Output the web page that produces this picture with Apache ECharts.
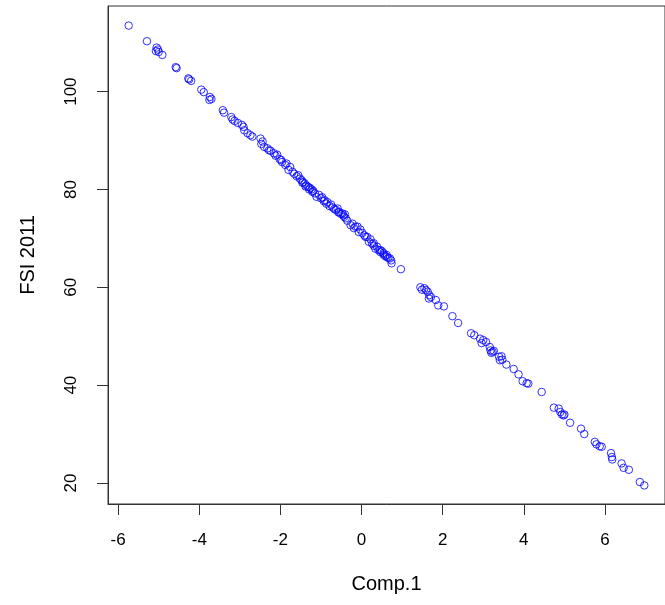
<!DOCTYPE html>
<html>
<head>
<meta charset="utf-8">
<script src="https://cdn.jsdelivr.net/npm/echarts@6/dist/echarts.min.js"></script>
<style>
  html, body { margin: 0; padding: 0; background: #fff; }
  #chart { width: 665px; height: 605px; }
</style>
</head>
<body>
<div id="chart"></div>
<script>
// Comp.1 scores and FSI 2011 values
var comp1 = [
  -5.74, -5.29, -5.05, -5.02, -5.07, -5.00, -4.91, -4.58, -4.56, -4.27,
  -4.25, -4.20, -3.95, -3.89, -3.74, -3.70, -3.75, -3.42, -3.39, -3.21,
  -3.18, -3.13, -3.05, -2.95, -2.91, -2.89, -2.81, -2.74, -2.69, -2.49,
  -2.47, -2.40, -2.32, -2.24, -2.16, -2.08, -2.02, -1.96, -1.88, -1.76,
  -2.44, -2.28, -2.12, -1.98, -1.85, -1.80, -1.70, -1.66,
  -1.60, -1.56, -1.52, -1.48, -1.46, -1.44, -1.40, -1.38, -1.36, -1.31,
  -1.29, -1.27, -1.23, -1.21, -1.19, -1.15, -1.11, -1.05, -1.00, -0.97,
  -0.93, -0.91, -0.87, -0.84, -0.79, -0.75, -0.71, -0.67, -0.63, -0.59,
  -0.57, -0.55, -0.51, -0.47, -0.45, -0.43, -0.41, -0.39, -0.35, -0.27,
  -0.22, -0.19, -0.15, -0.10, -0.07, -0.03, 0.02, 0.07, 0.10, 0.14,
  0.18, 0.22, 0.26, 0.30, 0.30, 0.34, 0.38, 0.42, 0.46, 0.46,
  0.50, 0.54, 0.54, 0.58, 0.62, 0.62, 0.66, 0.70, 0.73, 0.74,
  0.97,
  1.45, 1.49, 1.55, 1.59, 1.63, 1.67, 1.66, 1.71, 1.83, 1.89,
  2.03, 2.24, 2.38, 2.70, 2.78, 2.92, 3.00, 2.96, 3.07, 3.16,
  3.18, 3.23, 3.26, 3.20, 3.39, 3.45, 3.47, 3.41, 3.57, 3.75,
  3.87, 3.97, 4.07, 4.11, 4.44, 4.74, 4.86, 4.90, 4.94, 4.98,
  5.00, 5.14, 5.41, 5.49, 5.75, 5.79, 5.87, 5.92, 6.15, 6.17,
  6.18, 6.41, 6.46, 6.59, 6.86, 6.97
]
var fsi2011 = [
  113.5, 110.3, 109.0, 108.6, 108.3, 108.1, 107.5, 105.0, 104.8, 102.7,
  102.5, 102.2, 100.4, 99.9, 98.9, 98.5, 98.3, 96.2, 95.7, 94.8,
  94.3, 94.0, 93.6, 93.2, 92.8, 92.1, 91.5, 91.1, 90.8, 90.4,
  89.3, 88.7, 88.4, 87.9, 87.4, 87.1, 86.2, 85.6, 85.0, 84.6,
  89.8, 88.0, 86.9, 86.0, 85.3, 84.0, 83.6, 83.2,
  82.7, 82.9, 82.2, 81.9, 81.4, 81.5, 81.2, 80.6, 80.8, 80.5,
  80.0, 80.3, 80.0, 79.5, 79.7, 79.2, 78.5, 78.9, 78.2, 78.4,
  77.6, 77.8, 77.1, 77.4, 76.6, 76.9, 76.3, 76.0, 75.8, 76.1,
  75.3, 75.4, 75.0, 75.1, 74.7, 74.4, 74.9, 74.1, 73.6, 72.7,
  73.0, 72.1, 72.4, 72.4, 71.3, 71.8, 71.1, 70.6, 70.3, 70.3,
  69.3, 69.8, 68.9, 69.0, 68.5, 67.9, 68.3, 67.6, 67.6, 67.2,
  67.4, 67.0, 66.7, 66.4, 66.6, 66.2, 66.0, 65.9, 65.5, 64.9,
  63.7,
  60.0, 59.5, 59.8, 59.4, 59.1, 58.4, 57.7, 58.0, 57.4, 56.3,
  56.1, 54.1, 52.7, 50.6, 50.2, 49.5, 49.2, 48.6, 48.8, 47.8,
  47.1, 46.8, 47.0, 46.6, 45.8, 45.9, 45.2, 45.1, 44.2, 43.3,
  42.2, 40.8, 40.4, 40.3, 38.6, 35.4, 35.2, 34.5, 34.0, 33.8,
  34.0, 32.3, 31.1, 30.0, 28.4, 27.9, 27.5, 27.4, 26.1, 25.3,
  24.8, 24.0, 23.1, 22.7, 20.2, 19.5
]
var xTicks = [-6, -4, -2, 0, 2, 4, 6]
var yTicks = [20, 40, 60, 80, 100]

var points = comp1.map(function (x, i) { return [x, fsi2011[i]] })

var chart = echarts.init(document.getElementById('chart'))
var font = 'Liberation Sans, Arial, sans-serif'

var option = {
  animation: false,
  backgroundColor: '#fff',
  grid: {
    show: true,
    left: 108,
    top: 6,
    width: 567,
    height: 498,
    borderColor: '#333',
    borderWidth: 1
  },
  xAxis: {
    type: 'value',
    min: -6.25,
    max: 7.48,
    name: 'Comp.1',
    nameLocation: 'middle',
    nameGap: 70,
    nameTextStyle: { color: '#000', fontSize: 20, fontFamily: font },
    axisLine: { show: true, onZero: false, lineStyle: { color: '#333' } },
    splitLine: { show: false },
    axisTick: {
      show: true,
      length: 11,
      customValues: xTicks,
      lineStyle: { color: '#333' }
    },
    axisLabel: {
      customValues: xTicks,
      margin: 28,
      color: '#000',
      fontSize: 17,
      fontFamily: font
    }
  },
  yAxis: {
    type: 'value',
    min: 15.7,
    max: 117.5,
    name: 'FSI 2011',
    nameLocation: 'middle',
    nameGap: 70,
    nameRotate: 90,
    nameTextStyle: { color: '#000', fontSize: 20, fontFamily: font },
    axisLine: { show: true, onZero: false, lineStyle: { color: '#333' } },
    splitLine: { show: false },
    axisTick: {
      show: true,
      length: 11,
      customValues: yTicks,
      lineStyle: { color: '#333' }
    },
    axisLabel: {
      customValues: yTicks,
      rotate: 90,
      margin: 28,
      color: '#000',
      fontSize: 17,
      fontFamily: font
    }
  },
  series: [{
    type: 'scatter',
    data: points,
    symbol: 'circle',
    symbolSize: 7.5,
    itemStyle: {
      color: 'transparent',
      borderColor: '#0000ff',
      borderWidth: 1
    }
  }]
}

chart.setOption(option)
</script>
</body>
</html>
